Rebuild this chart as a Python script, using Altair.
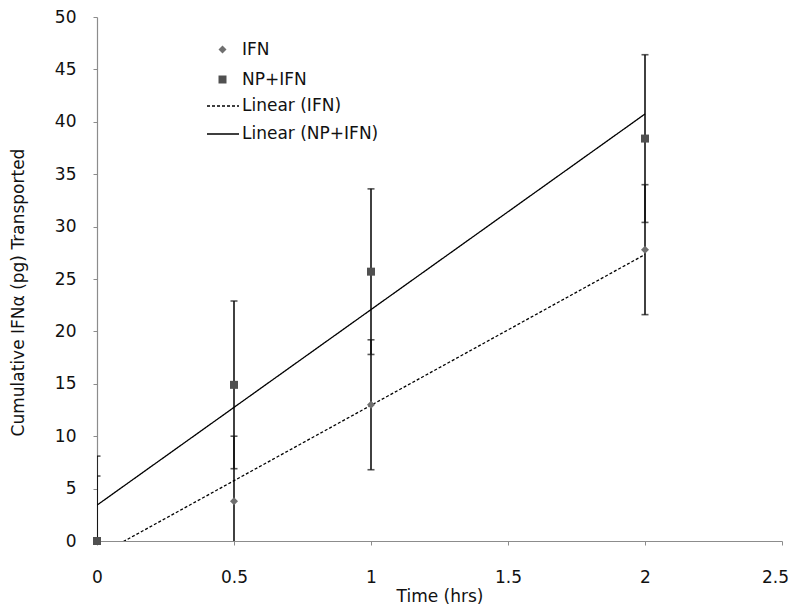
import altair as alt
import pandas as pd

# ---- data ----
time_hrs = [0, 0.5, 1, 2]
ifn_mean = [0.0, 3.8, 13.0, 27.8]
ifn_err = [6.2, 6.2, 6.2, 6.2]
np_ifn_mean = [0.0, 14.9, 25.7, 38.4]
np_ifn_err = [8.1, 8.0, 7.9, 8.0]

series_names = ["IFN", "NP+IFN"]
trend_names = ["Linear (IFN)", "Linear (NP+IFN)"]
x_ticks = [0, 0.5, 1, 1.5, 2, 2.5]
y_ticks = [0, 5, 10, 15, 20, 25, 30, 35, 40, 45, 50]

rows = []
for name, means, errs in [("IFN", ifn_mean, ifn_err), ("NP+IFN", np_ifn_mean, np_ifn_err)]:
    for t, m, e in zip(time_hrs, means, errs):
        rows.append({"time": t, "mean": m, "lo": m - e, "hi": m + e, "series": name})
df = pd.DataFrame(rows)

FONT = "DejaVu Sans"
x_scale = alt.Scale(domain=[0, 2.5], nice=False, zero=False)
y_scale = alt.Scale(domain=[0, 50], nice=False)

x_axis = alt.Axis(values=x_ticks, format="~g", labelFlush=False, title="Time (hrs)",
                  grid=False, labelFontSize=17, titleFontSize=17, titleFontWeight="normal",
                  labelPadding=24, tickSize=4, titleY=55, titleBaseline="middle",
                  labelOffset={"condition": {"test": "datum.value == 2.5", "value": -7}, "value": 0})
y_axis = alt.Axis(values=y_ticks, title="Cumulative IFNα (pg) Transported", grid=False,
                  labelFlush=False, labelFontSize=17, titleFontSize=17,
                  titleFontWeight="normal", labelPadding=17, tickSize=4,
                  titleX=-79, titleY=275, titleBaseline="middle", titleAngle=-90)

base = alt.Chart(df)

err_rule = base.mark_rule(color="#111111", strokeWidth=1.6, clip=True).encode(
    x=alt.X("time:Q", scale=x_scale, axis=x_axis),
    y=alt.Y("lo:Q", scale=y_scale, axis=y_axis),
    y2="hi:Q",
)
cap_lo = base.mark_tick(color="#111111", orient="horizontal", size=7, thickness=1.6, clip=True).encode(
    x="time:Q", y="lo:Q"
)
cap_hi = base.mark_tick(color="#111111", orient="horizontal", size=7, thickness=1.6, clip=True).encode(
    x="time:Q", y="hi:Q"
)

trend = base.transform_calculate(
    trend="'Linear (' + datum.series + ')'"
).transform_regression(
    "time", "mean", groupby=["trend"]
).mark_line(color="black", strokeWidth=1.3, clip=True).encode(
    x="time:Q",
    y="mean:Q",
    strokeDash=alt.StrokeDash(
        "trend:N",
        scale=alt.Scale(domain=trend_names, range=[[3, 2], [1, 0]]),
        legend=alt.Legend(title=None, orient="none", legendX=109, legendY=72,
                          symbolType="stroke", symbolSize=1024, symbolStrokeWidth=1.3,
                          symbolStrokeColor="black", labelFontSize=17, labelOffset=2,
                          rowPadding=3, padding=0, labelFont=FONT, labelColor="#111111"),
    ),
)

pts_legend = alt.Legend(title=None, orient="none", legendX=117, legendY=24,
                        labelFontSize=17, labelOffset=11, rowPadding=12, padding=0,
                        symbolSize=64, labelFont=FONT, labelColor="#111111")

points = base.mark_point(filled=True, opacity=1, size=64).encode(
    x="time:Q",
    y="mean:Q",
    shape=alt.Shape(
        "series:N",
        scale=alt.Scale(domain=series_names, range=["diamond", "square"]),
        legend=pts_legend,
    ),
    color=alt.Color(
        "series:N",
        scale=alt.Scale(domain=series_names, range=["#6f6f6f", "#505050"]),
        legend=pts_legend,
    ),
)

chart = alt.layer(err_rule, cap_lo, cap_hi, trend, points).properties(
    width=685,
    height=524,
    autosize=alt.AutoSizeParams(type="none"),
    padding={"left": 89, "top": 9, "right": 10, "bottom": 63},
    background="white",
).configure_view(
    stroke=None
).configure_axis(
    labelFont=FONT,
    titleFont=FONT,
    labelColor="#111111",
    titleColor="#111111",
    domainColor="#8c8c8c",
    tickColor="#8c8c8c",
    domainWidth=1.2,
)

chart.save("out.html", embed_options={"renderer": "svg", "actions": False})
